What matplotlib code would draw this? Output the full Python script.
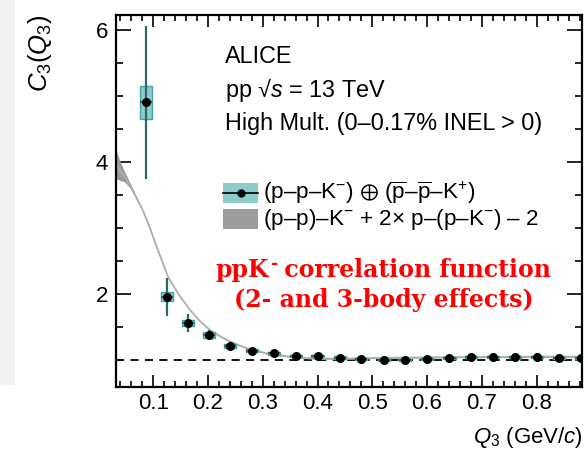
import matplotlib
matplotlib.use("Agg")
import matplotlib.pyplot as plt
from matplotlib.patches import Rectangle
from matplotlib.lines import Line2D
import numpy as np

plt.rcParams['font.family'] = ['Liberation Sans', 'DejaVu Sans']
plt.rcParams['mathtext.fontset'] = 'custom'
plt.rcParams['mathtext.rm'] = 'Liberation Sans'
plt.rcParams['mathtext.it'] = 'Liberation Sans:italic'
plt.rcParams['mathtext.bf'] = 'Liberation Sans:bold'
plt.rcParams['mathtext.sf'] = 'Liberation Sans'
plt.rcParams['mathtext.fallback'] = 'stixsans'

# --- measured three-particle correlation function ---
q3 = [0.087, 0.126, 0.164, 0.202, 0.240, 0.281, 0.320, 0.361, 0.400, 0.441,
      0.480, 0.521, 0.560, 0.600, 0.641, 0.681, 0.721, 0.761, 0.801, 0.841, 0.881]
c3 = [4.91, 1.96, 1.56, 1.38, 1.21, 1.14, 1.10, 1.06, 1.06, 1.035,
      1.01, 1.00, 1.00, 1.015, 1.025, 1.04, 1.04, 1.05, 1.05, 1.035, 1.025]
c3_stat = [1.16, 0.29, 0.13, 0.07, 0.04, 0.03, 0.025, 0.02, 0.02, 0.02,
           0.015, 0.015, 0.015, 0.015, 0.015, 0.015, 0.015, 0.015, 0.015, 0.015, 0.015]
c3_syst = [0.25, 0.065, 0.05, 0.04, 0.03, 0.025, 0.02, 0.02, 0.02, 0.02,
           0.015, 0.015, 0.015, 0.015, 0.015, 0.015, 0.015, 0.015, 0.015, 0.015, 0.015]

# --- lower-order (2-body) contributions, band ---
q_model = [0.032, 0.040, 0.048, 0.058, 0.070, 0.082, 0.094, 0.106, 0.118, 0.127,
           0.145, 0.167, 0.185, 0.203, 0.222, 0.240, 0.270, 0.307, 0.340, 0.368,
           0.400, 0.450, 0.500, 0.600, 0.700, 0.800, 0.883]
c_model_low = [3.75, 3.72, 3.70, 3.60, 3.43, 3.24, 2.99, 2.71, 2.45, 2.25,
               2.00, 1.75, 1.58, 1.45, 1.35, 1.27, 1.17, 1.09, 1.05, 1.025,
               1.01, 1.01, 1.02, 1.03, 1.035, 1.04, 1.04]
c_model_high = [4.18, 4.00, 3.85, 3.68, 3.47, 3.26, 3.01, 2.73, 2.47, 2.27,
                2.02, 1.77, 1.60, 1.47, 1.37, 1.29, 1.19, 1.11, 1.07, 1.045,
                1.03, 1.03, 1.04, 1.05, 1.055, 1.06, 1.06]

x_ticks = [0.1, 0.2, 0.3, 0.4, 0.5, 0.6, 0.7, 0.8]
y_ticks = [2, 4, 6]

W, H = 588, 455
fig = plt.figure(figsize=(W / 100, H / 100), dpi=100)
fig.patch.set_facecolor('white')
# faint grey strip on the left edge of the canvas
fig.patches.append(Rectangle((0, 1 - 385 / H), 15 / W, 385 / H, transform=fig.transFigure,
                             facecolor='#f3f3f3', edgecolor='none', zorder=0))

L, R, T, B = 116, 582, 15, 387
ax = fig.add_axes([L / W, 1 - B / H, (R - L) / W, (B - T) / H])
ax.set_xlim(0.032, 0.883)
ax.set_ylim(0.59, 6.23)

# model band and curve
lo = np.array(c_model_low)
hi = np.array(c_model_high)
ax.fill_between(q_model, lo, hi, color='#9c9c9c', lw=0, zorder=2)
ax.plot(q_model, (lo + hi) / 2, color='#b0b0b0', lw=1.3, zorder=2)

# baseline at unity
ax.axhline(1.0, color='black', lw=1.3, dashes=(4.5, 3.5), zorder=1)

# systematic boxes
c3a = np.array(c3)
sy = np.array(c3_syst)
ax.bar(q3, 2 * sy, bottom=c3a - sy, width=0.022, color='#8ecbcb',
       edgecolor='#45a3a3', lw=1.0, zorder=3)
# statistical errors and points
ax.errorbar(q3, c3, yerr=c3_stat, xerr=0.011, fmt='o', color='black', ms=5.5,
            ecolor='#2d6868', elinewidth=1.6, capsize=0, zorder=4, clip_on=True)

# axes styling
for s in ax.spines.values():
    s.set_linewidth(1.6)
ax.set_xticks(x_ticks)
ax.set_xticklabels([f"{v:.1f}" for v in x_ticks])
ax.set_xticks(np.arange(0.04, 0.881, 0.02), minor=True)
ax.set_yticks(y_ticks)
ax.set_yticklabels([str(v) for v in y_ticks])
ax.set_yticks(np.arange(1.0, 6.01, 0.5), minor=True)
ax.tick_params(axis='both', which='both', direction='in', top=True, right=True,
               width=1.2, labelsize=16)
ax.tick_params(axis='x', which='major', length=8.6, pad=4.5)
ax.tick_params(axis='x', which='minor', length=4.3)
ax.tick_params(axis='y', which='major', length=10.8, pad=5.5)
ax.tick_params(axis='y', which='minor', length=5.0)

# axis titles
fig.text(583 / W, 1 - 443 / H, r"$Q_{3}$ (GeV/$c$)", ha='right', va='baseline', fontsize=16)
fig.text(40 / W, 1 - 14 / H, r"$C_{3}(Q_{3})$", ha='center', va='top', rotation=90, fontsize=18.5)

# header text
def ax_x(px):
    return (px - L) / (R - L)

def ax_y(py):
    return (B - py) / (B - T)

hdr = 16.8
ax.text(ax_x(225), ax_y(63.3), "ALICE", transform=ax.transAxes, fontsize=hdr, va='baseline')
ax.text(ax_x(225), ax_y(96.7), r"pp √$\mathit{s}$ = 13 TeV", transform=ax.transAxes,
        fontsize=hdr, va='baseline')
ax.text(ax_x(225), ax_y(130), "High Mult. (0–0.17% INEL > 0)", transform=ax.transAxes,
        fontsize=hdr, va='baseline')

# legend
bx0, bw, bh = ax_x(223.3), 35 / (R - L), 20 / (B - T)
row1, row2 = ax_y(192.7), ax_y(219.2)
ax.add_patch(Rectangle((bx0, row1 - bh / 2), bw, bh, transform=ax.transAxes,
                       facecolor='#8ecbcb', edgecolor='none', zorder=5))
ax.add_line(Line2D([bx0, bx0 + bw], [row1, row1], transform=ax.transAxes,
                   color='black', lw=1.2, zorder=6))
ax.add_line(Line2D([bx0 + bw / 2], [row1], transform=ax.transAxes, marker='o',
                   color='black', ms=5, zorder=6))
ax.add_patch(Rectangle((bx0, row2 - bh / 2), bw, bh, transform=ax.transAxes,
                       facecolor='#9c9c9c', edgecolor='none', zorder=5))
tx = ax_x(263.3)
ax.text(tx, row1, r"(p–p–K$^{-}$) $\oplus$ ($\overline{\mathrm{p}}$–$\overline{\mathrm{p}}$–K$^{+}$)",
        transform=ax.transAxes, fontsize=16.2, va='center')
ax.text(tx, row2, r"(p–p)–K$^{-}$ + 2× p–(p–K$^{-}$) – 2",
        transform=ax.transAxes, fontsize=16.2, va='center')

# annotation (bold serif, red)
red = dict(fontweight='bold', color='#ff0000', family=['DejaVu Serif'])
rsize = 17.0
t1 = ax.text(ax_x(216), ax_y(277), "ppK", transform=ax.transAxes,
             ha='left', va='baseline', fontsize=rsize, **red)
ax.annotate("-", xy=(1, 1), xycoords=t1, xytext=(0.5, 2.5), textcoords='offset points',
            ha='left', va='top', fontsize=rsize * 0.72, **red)
ax.annotate(" correlation function", xy=(1, 0), xycoords=t1, xytext=(5.0, 0),
            textcoords='offset points', ha='left', va='bottom', fontsize=rsize, **red)
ax.text(ax_x(384), ax_y(307), "(2- and 3-body effects)", transform=ax.transAxes,
        ha='center', va='baseline', fontsize=rsize, **red)

fig.savefig("out.png", dpi=100)
